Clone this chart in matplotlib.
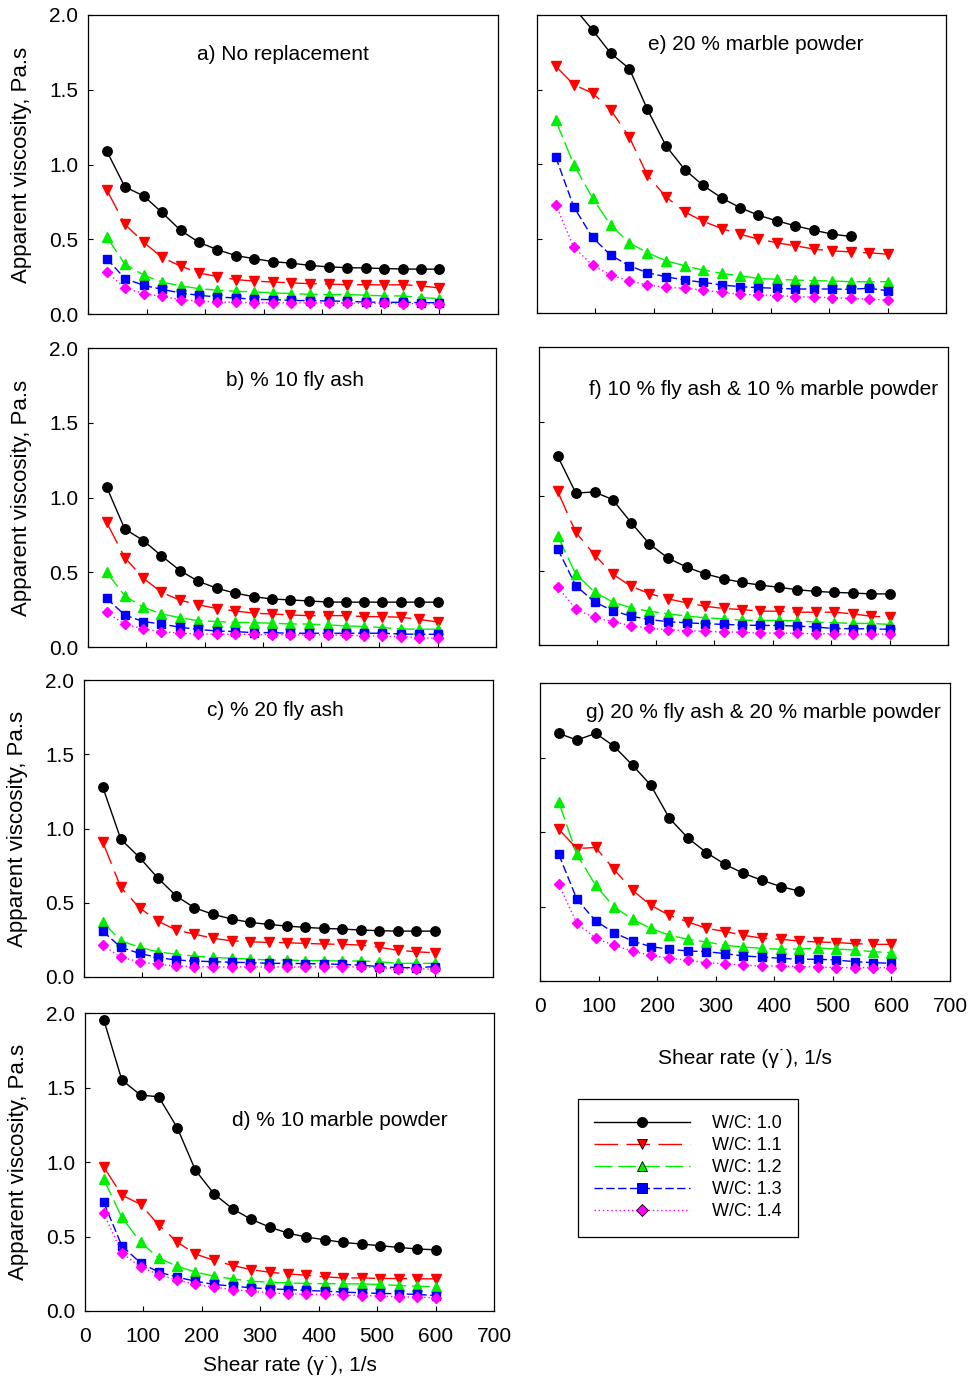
import matplotlib
matplotlib.use("Agg")
import matplotlib.pyplot as plt
from matplotlib.lines import Line2D
from matplotlib.ticker import FormatStrFormatter

plt.rcParams['font.family'] = ['Liberation Sans', 'DejaVu Sans']

W, H = 968, 1378

# ---- data ----
shear_rate = [32, 63, 95, 126, 158, 189, 221, 253, 284, 316, 347, 379, 411, 442, 474, 505, 537, 568, 600]
series_labels = ["W/C: 1.0", "W/C: 1.1", "W/C: 1.2", "W/C: 1.3", "W/C: 1.4"]

a_10 = [1.09, 0.85, 0.79, 0.68, 0.56, 0.48, 0.43, 0.39, 0.37, 0.35, 0.34, 0.325, 0.315, 0.31, 0.308, 0.304, 0.301, 0.30, 0.30]
a_11 = [0.83, 0.60, 0.48, 0.38, 0.32, 0.275, 0.25, 0.23, 0.22, 0.214, 0.208, 0.203, 0.20, 0.196, 0.196, 0.194, 0.196, 0.188, 0.174]
a_12 = [0.516, 0.333, 0.26, 0.214, 0.188, 0.17, 0.159, 0.152, 0.148, 0.141, 0.137, 0.132, 0.13, 0.13, 0.126, 0.121, 0.121, 0.11, 0.103]
a_13 = [0.371, 0.237, 0.192, 0.165, 0.141, 0.125, 0.114, 0.107, 0.098, 0.096, 0.091, 0.089, 0.087, 0.085, 0.08, 0.078, 0.078, 0.076, 0.076]
a_14 = [0.281, 0.174, 0.137, 0.118, 0.096, 0.087, 0.08, 0.078, 0.076, 0.075, 0.075, 0.074, 0.074, 0.073, 0.072, 0.071, 0.07, 0.069, 0.067]

b_10 = [1.07, 0.79, 0.712, 0.61, 0.511, 0.44, 0.393, 0.36, 0.337, 0.321, 0.315, 0.308, 0.301, 0.30, 0.30, 0.30, 0.30, 0.30, 0.30]
b_11 = [0.833, 0.598, 0.46, 0.366, 0.313, 0.283, 0.257, 0.241, 0.226, 0.221, 0.214, 0.21, 0.21, 0.21, 0.203, 0.203, 0.199, 0.185, 0.167]
b_12 = [0.50, 0.342, 0.266, 0.221, 0.196, 0.176, 0.17, 0.165, 0.163, 0.159, 0.154, 0.154, 0.148, 0.141, 0.137, 0.13, 0.121, 0.119, 0.119]
b_13 = [0.326, 0.214, 0.17, 0.154, 0.132, 0.118, 0.107, 0.103, 0.096, 0.096, 0.092, 0.092, 0.092, 0.092, 0.092, 0.092, 0.087, 0.085, 0.085]
b_14 = [0.232, 0.152, 0.121, 0.103, 0.092, 0.087, 0.085, 0.085, 0.084, 0.083, 0.082, 0.081, 0.08, 0.078, 0.076, 0.073, 0.069, 0.063, 0.058]

c_10 = [1.28, 0.928, 0.805, 0.668, 0.545, 0.466, 0.422, 0.39, 0.368, 0.354, 0.343, 0.334, 0.327, 0.323, 0.316, 0.312, 0.309, 0.309, 0.309]
c_11 = [0.91, 0.603, 0.466, 0.377, 0.316, 0.289, 0.26, 0.244, 0.237, 0.233, 0.231, 0.226, 0.222, 0.22, 0.215, 0.20, 0.18, 0.17, 0.163]
c_12 = [0.372, 0.244, 0.20, 0.17, 0.153, 0.141, 0.132, 0.126, 0.121, 0.114, 0.114, 0.11, 0.11, 0.108, 0.108, 0.103, 0.092, 0.092, 0.092]
c_13 = [0.309, 0.20, 0.159, 0.132, 0.114, 0.108, 0.103, 0.099, 0.097, 0.092, 0.092, 0.09, 0.088, 0.085, 0.08, 0.07, 0.063, 0.063, 0.07]
c_14 = [0.215, 0.132, 0.103, 0.085, 0.074, 0.07, 0.068, 0.068, 0.068, 0.068, 0.068, 0.068, 0.068, 0.068, 0.068, 0.063, 0.056, 0.056, 0.052]

d_10 = [1.956, 1.551, 1.449, 1.438, 1.229, 0.945, 0.785, 0.685, 0.616, 0.563, 0.523, 0.496, 0.478, 0.46, 0.449, 0.438, 0.427, 0.416, 0.411]
d_11 = [0.967, 0.778, 0.716, 0.578, 0.462, 0.382, 0.34, 0.305, 0.278, 0.26, 0.249, 0.24, 0.229, 0.222, 0.222, 0.218, 0.218, 0.216, 0.216]
d_12 = [0.885, 0.629, 0.462, 0.356, 0.30, 0.262, 0.233, 0.216, 0.20, 0.193, 0.189, 0.184, 0.184, 0.182, 0.182, 0.178, 0.171, 0.167, 0.162]
d_13 = [0.729, 0.438, 0.322, 0.262, 0.227, 0.20, 0.178, 0.167, 0.156, 0.149, 0.144, 0.138, 0.133, 0.127, 0.122, 0.118, 0.116, 0.111, 0.104]
d_14 = [0.656, 0.389, 0.296, 0.244, 0.207, 0.178, 0.16, 0.144, 0.133, 0.122, 0.116, 0.111, 0.111, 0.107, 0.104, 0.10, 0.096, 0.093, 0.089]

e_10 = [2.35, 2.05, 1.90, 1.744, 1.64, 1.366, 1.12, 0.962, 0.857, 0.772, 0.708, 0.656, 0.618, 0.585, 0.556, 0.529, 0.514]
e_11 = [1.656, 1.532, 1.476, 1.364, 1.18, 0.924, 0.779, 0.678, 0.616, 0.567, 0.529, 0.496, 0.471, 0.451, 0.429, 0.417, 0.41, 0.404, 0.395]
e_12 = [1.293, 0.996, 0.772, 0.589, 0.471, 0.404, 0.35, 0.317, 0.288, 0.266, 0.25, 0.232, 0.226, 0.221, 0.217, 0.215, 0.21, 0.21, 0.21]
e_13 = [1.047, 0.712, 0.507, 0.388, 0.317, 0.27, 0.243, 0.221, 0.206, 0.188, 0.177, 0.17, 0.166, 0.161, 0.161, 0.161, 0.159, 0.166, 0.15]
e_14 = [0.728, 0.44, 0.321, 0.254, 0.216, 0.188, 0.172, 0.166, 0.155, 0.139, 0.126, 0.121, 0.117, 0.11, 0.106, 0.103, 0.098, 0.092, 0.088]

f_10 = [1.267, 1.02, 1.027, 0.976, 0.82, 0.678, 0.583, 0.522, 0.478, 0.445, 0.42, 0.402, 0.387, 0.371, 0.36, 0.353, 0.349, 0.343, 0.343]
f_11 = [1.031, 0.756, 0.605, 0.476, 0.393, 0.345, 0.309, 0.283, 0.26, 0.245, 0.238, 0.227, 0.227, 0.22, 0.22, 0.22, 0.209, 0.193, 0.187]
f_12 = [0.731, 0.476, 0.356, 0.289, 0.249, 0.227, 0.209, 0.194, 0.183, 0.176, 0.167, 0.165, 0.165, 0.161, 0.154, 0.149, 0.145, 0.145, 0.138]
f_13 = [0.645, 0.398, 0.289, 0.231, 0.193, 0.171, 0.156, 0.149, 0.143, 0.138, 0.134, 0.131, 0.131, 0.127, 0.12, 0.111, 0.109, 0.109, 0.105]
f_14 = [0.389, 0.24, 0.185, 0.156, 0.129, 0.113, 0.102, 0.096, 0.091, 0.089, 0.085, 0.08, 0.08, 0.078, 0.076, 0.075, 0.073, 0.073, 0.073]

g_10 = [1.662, 1.617, 1.662, 1.577, 1.448, 1.315, 1.092, 0.958, 0.862, 0.783, 0.723, 0.676, 0.634, 0.604]
g_11 = [1.018, 0.889, 0.896, 0.75, 0.609, 0.508, 0.441, 0.396, 0.354, 0.332, 0.307, 0.287, 0.28, 0.268, 0.262, 0.258, 0.251, 0.246, 0.246]
g_12 = [1.201, 0.85, 0.642, 0.499, 0.414, 0.354, 0.307, 0.28, 0.262, 0.24, 0.228, 0.219, 0.213, 0.215, 0.222, 0.215, 0.208, 0.197, 0.19]
g_13 = [0.85, 0.548, 0.403, 0.325, 0.268, 0.231, 0.213, 0.201, 0.197, 0.184, 0.168, 0.161, 0.152, 0.146, 0.146, 0.141, 0.13, 0.123, 0.119]
g_14 = [0.649, 0.387, 0.287, 0.24, 0.201, 0.172, 0.152, 0.139, 0.123, 0.116, 0.107, 0.101, 0.101, 0.097, 0.094, 0.09, 0.09, 0.09, 0.09]

panel_titles = ["a) No replacement", "b) % 10 fly ash", "c) % 20 fly ash", "d) % 10 marble powder",
                "e) 20 % marble powder", "f) 10 % fly ash & 10 % marble powder",
                "g) 20 % fly ash & 20 % marble powder"]
panel_data = [
    [a_10, a_11, a_12, a_13, a_14],
    [b_10, b_11, b_12, b_13, b_14],
    [c_10, c_11, c_12, c_13, c_14],
    [d_10, d_11, d_12, d_13, d_14],
    [e_10, e_11, e_12, e_13, e_14],
    [f_10, f_11, f_12, f_13, f_14],
    [g_10, g_11, g_12, g_13, g_14],
]
y_ticks = [0.0, 0.5, 1.0, 1.5, 2.0]
x_ticks = [0, 100, 200, 300, 400, 500, 600, 700]
x_label = "Shear rate (\u03b3\u02d9), 1/s"
y_label = "Apparent viscosity, Pa.s"

# ---- styles ----
styles = [
    dict(color='black', marker='o', ms=6.8, ls='-', dashes=None),
    dict(color='#ff0000', marker='v', ms=7.4, ls='--', dashes=(17, 6)),
    dict(color='#00ee00', marker='^', ms=7.4, ls='--', dashes=(13, 4)),
    dict(color='#0000ff', marker='s', ms=6.3, ls='--', dashes=(6, 2.5)),
    dict(color='#ff00ff', marker='D', ms=5.2, ls=':', dashes=(1, 2)),
]

# panel boxes in pixels: left, right, top, bottom
boxes = [
    (88, 498, 15, 314),
    (88, 496, 348, 647),
    (84, 493, 680, 977),
    (85, 494, 1013, 1311),
    (537, 946, 15, 313),
    (539, 948, 347, 645),
    (540, 950, 683, 981),
]
title_pos = [(283, 55), (295, 381), (275, 710), (340, 1120), (756, 44), (764, 390), (763, 713)]

fig = plt.figure(figsize=(W / 100, H / 100), dpi=100)

for i, (box, data) in enumerate(zip(boxes, panel_data)):
    l, r, t, b = box
    ax = fig.add_axes([l / W, 1 - b / H, (r - l) / W, (b - t) / H])
    for st, ys in zip(styles, data):
        xs = shear_rate[:len(ys)]
        line, = ax.plot(xs, ys, color=st['color'], marker=st['marker'], ms=st['ms'],
                        mec=st['color'], mfc=st['color'], lw=1.0, ls=st['ls'])
        if st['dashes'] is not None:
            line.set_dashes(st['dashes'])
    ax.set_xlim(0, 700)
    ax.set_ylim(0, 2.0)
    ax.set_xticks(x_ticks)
    ax.set_yticks(y_ticks)
    ax.yaxis.set_major_formatter(FormatStrFormatter('%.1f'))
    ax.tick_params(direction='in', length=3.5, width=0.8, labelsize=15)
    ax.tick_params(axis='y', pad=7)
    ax.tick_params(axis='x', pad=11.5)
    for sp in ax.spines.values():
        sp.set_linewidth(0.9)
    left_col = i < 4
    bottom_row = i in (3, 6)
    if not left_col:
        ax.tick_params(axis='y', labelleft=False)
    else:
        fig.text((l - 66) / W, 1 - ((t + b) / 2) / H, y_label, rotation=90,
                 ha='center', va='center', fontsize=16)
    if not bottom_row:
        ax.tick_params(axis='x', labelbottom=False)
    tx, ty = title_pos[i]
    fig.text(tx / W, 1 - ty / H, panel_titles[i], ha='center', va='center', fontsize=15)

fig.text(290 / W, 1 - 1365 / H, x_label, ha='center', va='center', fontsize=15)
fig.text(745 / W, 1 - 1058 / H, x_label, ha='center', va='center', fontsize=15)

handles = []
for st, lab in zip(styles, series_labels):
    h = Line2D([], [], color=st['color'], marker=st['marker'], ms=st['ms'] + 0.5,
               mfc=st['color'], mec='black', mew=0.6, lw=1.0, ls=st['ls'], label=lab)
    if st['dashes'] is not None:
        h.set_dashes(st['dashes'])
    handles.append(h)

leg = fig.legend(handles=handles, loc='upper left', bbox_to_anchor=(578 / W, 1 - 1099 / H),
                 bbox_transform=fig.transFigure, borderaxespad=0, fontsize=13,
                 handlelength=5.3, handletextpad=1.2, labelspacing=0.28, borderpad=0.9,
                 frameon=True, fancybox=False, framealpha=1, edgecolor='black', numpoints=1)
leg.get_frame().set_linewidth(0.9)

fig.savefig("out.png", dpi=100)
